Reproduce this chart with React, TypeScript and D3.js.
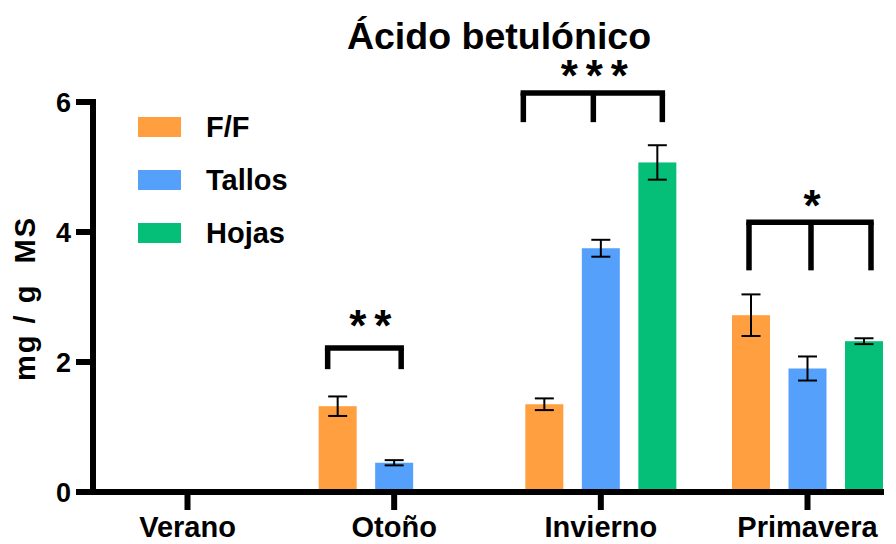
import React from "react";
import * as d3 from "d3";

// Seasons on the x axis and the three plant parts
const seasons = ["Verano", "Otoño", "Invierno", "Primavera"];
const series = ["F/F", "Tallos", "Hojas"];
const colors = ["#FF9F40", "#55A0FB", "#05BF78"];

// Mean concentration (mg / g MS) per season; null = not detected
const ffValues = [null, 1.32, 1.35, 2.72];
const tallosValues = [null, 0.45, 3.75, 1.9];
const hojasValues = [null, null, 5.07, 2.32];

// Error (± SD) per season
const ffErrors = [null, 0.15, 0.09, 0.32];
const tallosErrors = [null, 0.04, 0.13, 0.185];
const hojasErrors = [null, null, 0.265, 0.045];

const yTicks = [0, 2, 4, 6];

// Significance brackets: leg offsets (px from the season centre), top/bottom in data units,
// star count and star placement (horizontal nudge, gap above the bracket in px)
const brackets = [
  { season: "Otoño", legs: [-66.5, 7], top: 2.215, bottom: 1.89, stars: 2, starDx: 6, starGap: 38 },
  { season: "Invierno", legs: [-77.5, -7.5, 61.5], top: 6.14, bottom: 5.69, stars: 3, starDx: 1.5, starGap: 33 },
  { season: "Primavera", legs: [-58.5, 3.5, 63.5], top: 4.15, bottom: 3.41, stars: 1, starDx: 2, starGap: 32 },
];

const FONT = "'Liberation Sans', Arial, Helvetica, sans-serif";

export default function App() {
  const width = 896;
  const height = 544;

  const y = d3.scaleLinear().domain([0, 6]).range([492, 102]);
  const x = d3.scalePoint<string>().domain(seasons).range([187.5, 807.5]);
  const inner = d3.scalePoint<string>().domain(series).range([-56.5, 56.5]);
  const barW = 38;
  const capHalf = 9.5;

  const valueSets = [ffValues, tallosValues, hojasValues];
  const errorSets = [ffErrors, tallosErrors, hojasErrors];

  const bars: { key: string; cx: number; v: number; e: number | null; color: string }[] = [];
  series.forEach((s, si) => {
    seasons.forEach((season, i) => {
      const v = valueSets[si][i];
      if (v == null) return;
      bars.push({
        key: `${s}-${season}`,
        cx: (x(season) as number) + (inner(s) as number),
        v,
        e: errorSets[si][i],
        color: colors[si],
      });
    });
  });

  const axisX0 = 93;
  const axisX1 = 884;
  const axisW = 6;
  const starSize = 44;

  return (
    <svg
      width={width}
      height={height}
      style={{ position: "absolute", left: 0, top: 0, background: "#fff" }}
      fontFamily={FONT}
      fontWeight="bold"
    >
      {/* Title */}
      <text x={499} y={49} fontSize={37.5} textAnchor="middle" fill="#000">
        Ácido betulónico
      </text>

      {/* Bars */}
      {bars.map((b) => (
        <rect
          key={b.key}
          x={b.cx - barW / 2}
          y={y(b.v)}
          width={barW}
          height={y(0) - y(b.v)}
          fill={b.color}
        />
      ))}

      {/* Error bars */}
      {bars.map((b) =>
        b.e == null ? null : (
          <g key={`e-${b.key}`} stroke="#000" strokeWidth={2}>
            <line x1={b.cx} x2={b.cx} y1={y(b.v + b.e)} y2={y(b.v - b.e)} />
            <line x1={b.cx - capHalf} x2={b.cx + capHalf} y1={y(b.v + b.e)} y2={y(b.v + b.e)} />
            <line x1={b.cx - capHalf} x2={b.cx + capHalf} y1={y(b.v - b.e)} y2={y(b.v - b.e)} />
          </g>
        )
      )}

      {/* Y axis */}
      <line x1={axisX0} x2={axisX0} y1={y(6) - 3} y2={y(0) + axisW / 2} stroke="#000" strokeWidth={axisW} />
      {yTicks.map((t) => (
        <g key={`yt-${t}`}>
          <line x1={76} x2={axisX0} y1={y(t)} y2={y(t)} stroke="#000" strokeWidth={axisW} />
          <text x={71} y={y(t)} dy="0.36em" fontSize={27} textAnchor="end" fill="#000">
            {t}
          </text>
        </g>
      ))}

      {/* X axis */}
      <line x1={axisX0 - axisW / 2} x2={axisX1} y1={y(0)} y2={y(0)} stroke="#000" strokeWidth={axisW} />
      {seasons.map((s) => (
        <g key={`xt-${s}`}>
          <line x1={x(s)} x2={x(s)} y1={y(0)} y2={510} stroke="#000" strokeWidth={axisW} />
          <text x={x(s)} y={537} fontSize={29} textAnchor="middle" fill="#000">
            {s}
          </text>
        </g>
      ))}

      {/* Y axis title */}
      <text
        transform="translate(35,298.5) rotate(-90)"
        fontSize={29}
        letterSpacing={2}
        textAnchor="middle"
        fill="#000"
        style={{ whiteSpace: "pre" }}
      >
        {"mg / g  MS"}
      </text>

      {/* Legend */}
      {series.map((s, i) => (
        <g key={`lg-${s}`}>
          <rect x={138} y={117 + i * 53} width={43} height={20} fill={colors[i]} />
          <text x={206} y={137 + i * 53} fontSize={29} fill="#000">
            {s}
          </text>
        </g>
      ))}

      {/* Significance brackets */}
      {brackets.map((br) => {
        const cx = x(br.season) as number;
        const legXs = br.legs.map((d) => cx + d);
        const left = legXs[0];
        const right = legXs[legXs.length - 1];
        const top = y(br.top);
        const bottom = y(br.bottom);
        const mid = (left + right) / 2 + br.starDx;
        const sw = 5.5;
        return (
          <g key={`br-${br.season}`}>
            <line x1={left - sw / 2} x2={right + sw / 2} y1={top} y2={top} stroke="#000" strokeWidth={sw} />
            {legXs.map((lx, k) => (
              <line key={k} x1={lx} x2={lx} y1={top} y2={bottom} stroke="#000" strokeWidth={sw} />
            ))}
            {d3.range(br.stars).map((k) => (
              <text
                key={`s${k}`}
                x={mid + (k - (br.stars - 1) / 2) * 25}
                y={top - br.starGap + 31}
                fontSize={starSize}
                textAnchor="middle"
                fill="#000"
              >
                *
              </text>
            ))}
          </g>
        );
      })}
    </svg>
  );
}
